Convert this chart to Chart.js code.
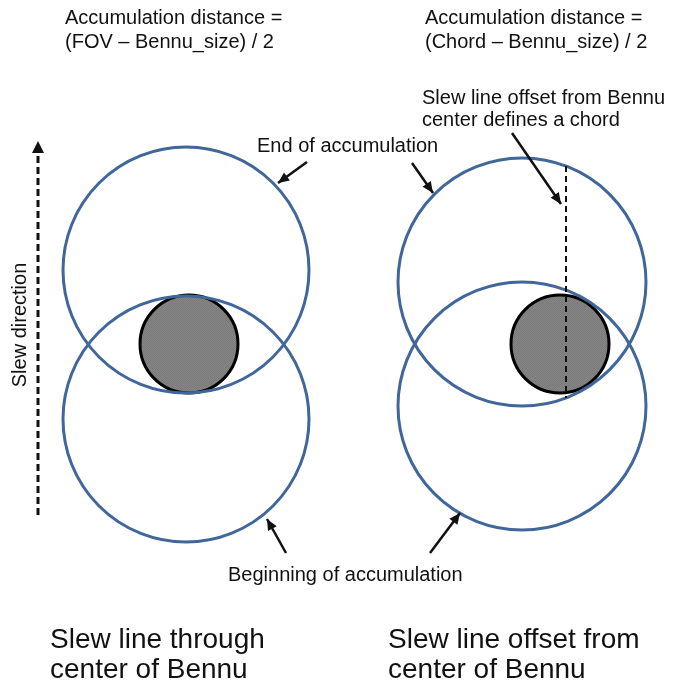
<!DOCTYPE html>
<html>
<head>
<meta charset="utf-8">
<script src="https://cdn.jsdelivr.net/npm/chart.js@4"></script>
<style>
  html, body { margin: 0; padding: 0; background: #ffffff; }
  #wrap { width: 676px; height: 686px; }
</style>
</head>
<body>
<div id="wrap"><canvas id="chart" width="676" height="686"></canvas></div>
<script>
// Field-of-view circles (left: slew through center), pixel-like units
const fovCircles = [{ x: 186, y: 270, r: 123 }, { x: 186, y: 419, r: 123 }];
// Chord circles (right: slew offset from center)
const chordCircles = [{ x: 522, y: 282, r: 124 }, { x: 522, y: 406, r: 124 }];
// Bennu discs
const bennuDiscs = [{ x: 189, y: 344, r: 49 }, { x: 560, y: 344, r: 49 }];

// Slew direction arrow (bottom -> top)
const slewArrow = [{ x: 38, y: 515 }, { x: 38, y: 141 }];
// Offset slew line (chord)
const chordLine = [{ x: 566, y: 166 }, { x: 566, y: 398 }];

// Pointer arrows (start -> tip)
const pointerArrows = [
  [{ x: 307, y: 162 }, { x: 278, y: 183 }],
  [{ x: 412, y: 163 }, { x: 433, y: 193 }],
  [{ x: 512, y: 133 }, { x: 561, y: 204 }],
  [{ x: 286, y: 553 }, { x: 267, y: 519 }],
  [{ x: 430, y: 553 }, { x: 460, y: 513 }]
];

// Text labels
const labelText = [
  'Accumulation distance =', '(FOV \u2013 Bennu_size) / 2',
  'Accumulation distance =', '(Chord \u2013 Bennu_size) / 2',
  'Slew line offset from Bennu', 'center defines a chord',
  'End of accumulation',
  'Beginning of accumulation',
  'Slew line through', 'center of Bennu',
  'Slew line offset from', 'center of Bennu'
];
const labelPos = [
  [65, 18], [65, 42],
  [425, 18], [425, 42],
  [422, 98], [422, 120],
  [257, 146],
  [228, 575],
  [50, 640], [50, 670],
  [388, 640], [388, 670]
];
const labelSize = [20, 20, 20, 20, 20, 20, 20, 20, 28, 28, 28, 28];
const sideLabel = 'Slew direction';

const blue = '#41679a';
const ink = '#111111';
const fontFamily = '"Liberation Sans", Arial, sans-serif';

// speckled grey fill for Bennu
function bennuPattern() {
  const c = document.createElement('canvas');
  c.width = 2; c.height = 2;
  const g = c.getContext('2d');
  g.fillStyle = '#868686'; g.fillRect(0, 0, 2, 2);
  g.fillStyle = '#7a7a7a'; g.fillRect(0, 0, 1, 1); g.fillRect(1, 1, 1, 1);
  return g.createPattern(c, 'repeat');
}

const arrowHeads = {
  id: 'arrowHeads',
  afterDatasetsDraw(chart) {
    const ctx = chart.ctx;
    chart.data.datasets.forEach((ds, i) => {
      if (!ds.arrow) return;
      const pts = chart.getDatasetMeta(i).data;
      const a = pts[pts.length - 2], b = pts[pts.length - 1];
      const ang = Math.atan2(b.y - a.y, b.x - a.x);
      const len = ds.headLen || 11, half = ds.headHalf || 5;
      ctx.save();
      ctx.translate(b.x, b.y);
      ctx.rotate(ang);
      ctx.fillStyle = ink;
      ctx.beginPath();
      ctx.moveTo(0, 0);
      ctx.lineTo(-len, -half);
      ctx.lineTo(-len, half);
      ctx.closePath();
      ctx.fill();
      ctx.restore();
    });
  }
};

const textLabels = {
  id: 'textLabels',
  afterDraw(chart) {
    const ctx = chart.ctx;
    const xs = chart.scales.x, ys = chart.scales.y;
    ctx.save();
    ctx.fillStyle = ink;
    ctx.textBaseline = 'middle';
    ctx.textAlign = 'left';
    labelText.forEach((t, i) => {
      ctx.font = labelSize[i] + 'px ' + fontFamily;
      ctx.fillText(t, xs.getPixelForValue(labelPos[i][0]), ys.getPixelForValue(labelPos[i][1]));
    });
    ctx.translate(xs.getPixelForValue(20), ys.getPixelForValue(325));
    ctx.rotate(-Math.PI / 2);
    ctx.textAlign = 'center';
    ctx.font = '20px ' + fontFamily;
    ctx.fillText(sideLabel, 0, 0);
    ctx.restore();
  }
};

const whiteBg = {
  id: 'whiteBg',
  beforeDraw(chart) {
    const ctx = chart.ctx;
    ctx.save();
    ctx.fillStyle = '#ffffff';
    ctx.fillRect(0, 0, chart.width, chart.height);
    ctx.restore();
  }
};

const lineDs = (data, extra) => Object.assign({
  type: 'line',
  data: data,
  borderColor: ink,
  borderWidth: 2.5,
  pointRadius: 0,
  fill: false,
  tension: 0,
  order: 0
}, extra);

const datasets = [
  lineDs(slewArrow, { borderDash: [7, 4], borderWidth: 3, arrow: true, headLen: 12, headHalf: 6 }),
  lineDs(chordLine, { borderDash: [6, 4], borderWidth: 2 }),
  ...pointerArrows.map(p => lineDs(p, { arrow: true })),
  {
    type: 'bubble',
    data: fovCircles.concat(chordCircles),
    backgroundColor: 'rgba(0,0,0,0)',
    borderColor: blue,
    borderWidth: 3,
    order: 1
  },
  {
    type: 'bubble',
    data: bennuDiscs,
    backgroundColor: bennuPattern(),
    borderColor: '#000000',
    borderWidth: 3,
    order: 2
  }
];

new Chart(document.getElementById('chart'), {
  type: 'scatter',
  data: { datasets: datasets },
  options: {
    responsive: false,
    animation: false,
    events: [],
    layout: { padding: 0, autoPadding: false },
    plugins: { legend: { display: false }, tooltip: { enabled: false } },
    scales: {
      x: { type: 'linear', min: 0, max: 676, display: false },
      y: { type: 'linear', min: 0, max: 686, reverse: true, display: false }
    }
  },
  plugins: [whiteBg, arrowHeads, textLabels]
});
</script>
</body>
</html>
